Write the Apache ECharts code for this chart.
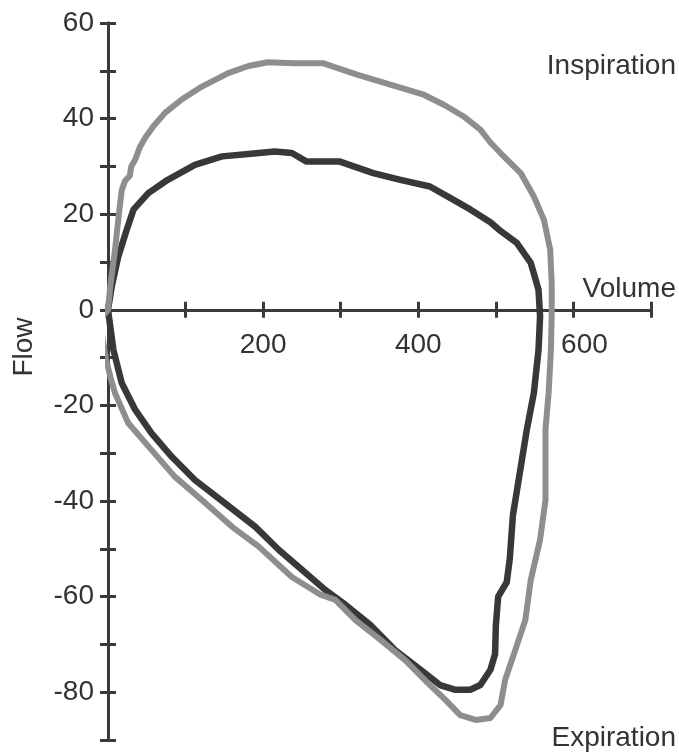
<!DOCTYPE html>
<html>
<head>
<meta charset="utf-8">
<script src="https://cdn.jsdelivr.net/npm/echarts@6/dist/echarts.min.js"></script>
<style>
  html, body { margin: 0; padding: 0; background: #fff; }
  #chart { width: 679px; height: 755px; }
</style>
</head>
<body>
<div id="chart"></div>
<script>
// Flow–volume loops: volume (mL) on x, flow on y.
const xTicks = [0, 100, 200, 300, 400, 500, 600, 700];
const xLabels = [200, 400, 600];
const yLabels = [-80, -60, -40, -20, 0, 20, 40, 60];

// Outer (light grey) loop: inspiration arc above, expiration below.
const outerVolume = [0, 3, 9, 14, 17.7, 22, 28, 30, 35, 41, 48, 58.5, 73.5, 95, 121, 155, 181, 206, 241, 277, 321, 364, 407, 433, 458, 480, 493, 506, 532, 549, 562, 570, 572, 572, 571, 568, 564, 564, 557, 545, 538, 525, 512, 506, 493, 474, 454, 435, 415, 383, 351, 319, 293, 274, 237, 194, 160, 121, 86, 56, 26, 9, 3, -3, -7, -10, 0];
const outerFlow = [0, 5, 12.5, 20, 25, 27, 28, 30, 31.4, 34, 36, 38.4, 41.2, 44, 46.7, 49.5, 51, 51.8, 51.6, 51.6, 49.2, 47.1, 45, 42.9, 40.5, 37.7, 35, 32.8, 28.6, 23.7, 18.8, 12.6, 5.6, -0.6, -8.4, -17.4, -25, -39.8, -48.1, -56.5, -64.9, -71.2, -77.4, -82.7, -85.4, -85.8, -84.8, -81.6, -78.5, -73.3, -69, -64.9, -60.7, -59.6, -55.9, -49.5, -45.4, -39.8, -34.9, -29.3, -23.7, -17.4, -14, -10, -6, -2, 0];

// Inner (dark) loop.
const innerVolume = [0, 5, 13, 24, 33, 52, 77, 112, 147, 181, 215, 237, 256, 299, 342, 377, 415, 441, 467, 493, 506, 527, 545, 555, 557, 555, 549, 540, 530, 522, 518, 514, 503, 500, 499, 493, 480, 467, 448, 428, 403, 370, 338, 306, 280, 250, 220, 190, 151, 112, 82, 56, 35, 17.7, 7, 0];
const innerFlow = [0, 5, 11, 16.7, 21, 24.4, 27.2, 30.3, 32.1, 32.6, 33.1, 32.8, 31, 31, 28.6, 27.2, 25.8, 23.4, 21, 18.3, 16.5, 14, 9.8, 4.2, -1.4, -8.4, -17.4, -25, -35, -43, -52, -57, -60, -66, -72, -75.3, -78.5, -79.5, -79.5, -78.5, -75.3, -71.2, -65.9, -61.7, -58.6, -54.4, -50.2, -45.4, -40.5, -35.6, -30.7, -25.8, -20.9, -15.3, -8.4, 0];

const pairs = (xs, ys) => xs.map((x, i) => [x, ys[i]]);

const AXIS = '#3a3a3a';
const FONT = 'Liberation Sans';
const FS = 28;
const TEXT = '#333';

// Two copies of each axis: one with ticks outside, one inside, so ticks cross the line.
const xBase = {
  type: 'value', min: 0, max: 700, interval: 100, position: 'bottom', offset: 0,
  splitLine: { show: false },
  axisLine: { onZero: false, lineStyle: { color: AXIS, width: 3 } }
};
const yBase = {
  type: 'value', min: -90, max: 60, interval: 10, position: 'left',
  splitLine: { show: false },
  axisLine: { onZero: false, lineStyle: { color: AXIS, width: 3 } }
};

const chart = echarts.init(document.getElementById('chart'));
const option = {
  animation: false,
  backgroundColor: '#fff',
  grid: { left: 108, right: 28, top: 23, bottom: 15, containLabel: false, outerBoundsMode: 'none' },
  xAxis: [
    Object.assign({}, xBase, {
      axisTick: { inside: false, length: 8, lineStyle: { color: AXIS, width: 3 } },
      axisLabel: {
        margin: 21, color: TEXT, fontFamily: FONT, fontSize: FS,
        // the last label sits a little right of its tick, clear of the loops
        formatter: v => !xLabels.includes(v) ? '' : (v === 600 ? '{r|' + v + '}' : String(v)),
        rich: { r: { fontFamily: FONT, fontSize: FS, color: TEXT, padding: [0, 0, 0, 22] } }
      }
    }),
    Object.assign({}, xBase, {
      axisTick: { inside: true, length: 8, lineStyle: { color: AXIS, width: 3 } },
      axisLabel: { show: false }
    })
  ],
  yAxis: [
    Object.assign({}, yBase, {
      axisTick: { inside: false, length: 8, lineStyle: { color: AXIS, width: 3 } },
      axisLabel: {
        margin: 14, color: TEXT, fontFamily: FONT, fontSize: FS,
        formatter: v => yLabels.includes(v) ? String(v) : ''
      }
    }),
    Object.assign({}, yBase, {
      axisTick: { inside: true, length: 8, lineStyle: { color: AXIS, width: 3 } },
      axisLabel: { show: false }
    })
  ],
  series: [
    {
      name: 'Inner loop', type: 'line', xAxisIndex: 0, yAxisIndex: 0,
      data: pairs(innerVolume, innerFlow), showSymbol: false, clip: false, z: 3,
      lineStyle: { color: '#383838', width: 6.5, join: 'round', cap: 'round' }
    },
    {
      name: 'Outer loop', type: 'line', xAxisIndex: 0, yAxisIndex: 0,
      data: pairs(outerVolume, outerFlow), showSymbol: false, clip: false, z: 4,
      lineStyle: { color: '#8e8e8e', width: 6, join: 'round', cap: 'round' }
    }
  ],
  graphic: [
    { type: 'text', x: 676, y: 66, style: { text: 'Inspiration', font: FS + 'px "Liberation Sans"', fill: TEXT, textAlign: 'right', textVerticalAlign: 'middle' } },
    { type: 'text', x: 676, y: 738, style: { text: 'Expiration', font: FS + 'px "Liberation Sans"', fill: TEXT, textAlign: 'right', textVerticalAlign: 'middle' } },
    { type: 'text', x: 676, y: 289, style: { text: 'Volume', font: FS + 'px "Liberation Sans"', fill: TEXT, textAlign: 'right', textVerticalAlign: 'middle' } },
    { type: 'text', x: 24, y: 347, rotation: Math.PI / 2, style: { text: 'Flow', font: FS + 'px "Liberation Sans"', fill: TEXT, textAlign: 'center', textVerticalAlign: 'middle' } }
  ]
};
chart.setOption(option);

// Lift the volume axis from the bottom edge of the grid up to the zero-flow line.
const zeroY = chart.convertToPixel({ yAxisIndex: 0 }, 0);
const bottomY = chart.convertToPixel({ yAxisIndex: 0 }, -90);
const lift = -(bottomY - zeroY);
chart.setOption({ xAxis: [{ offset: lift }, { offset: lift }] });
</script>
</body>
</html>
